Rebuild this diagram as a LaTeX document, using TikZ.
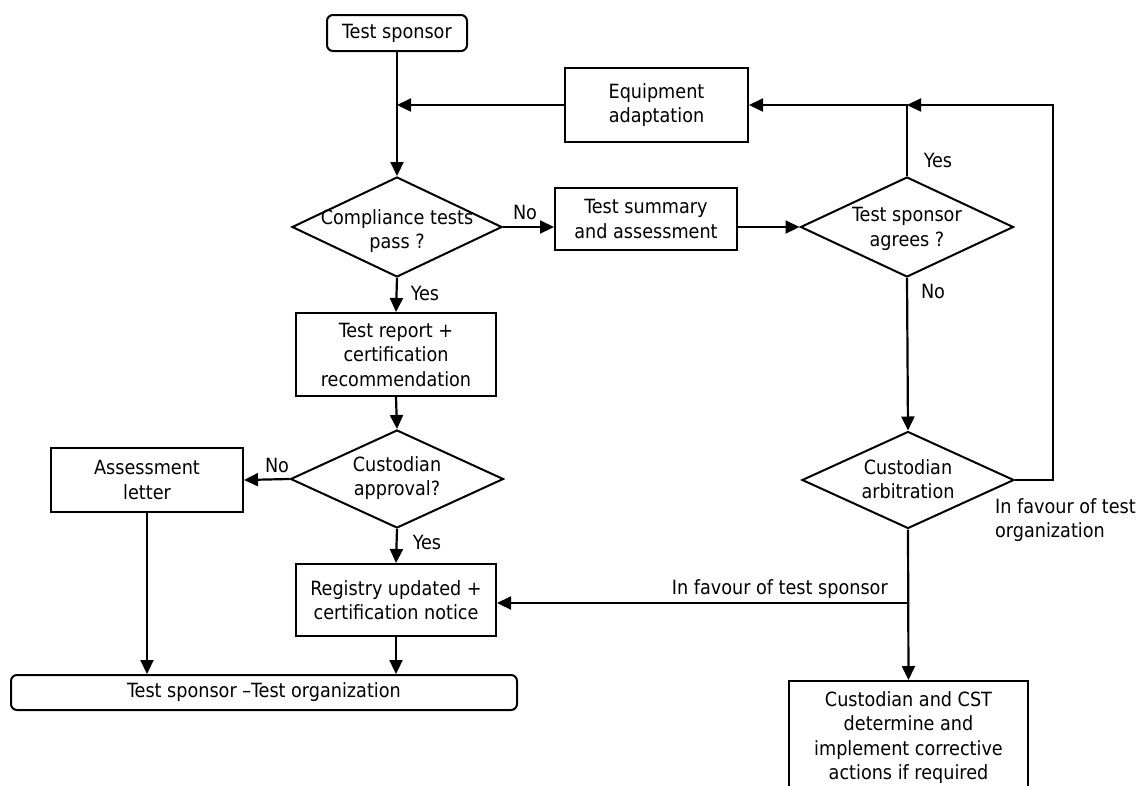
\documentclass[tikz,border=0pt]{standalone}
\usepackage{fontspec}
\setmainfont{DejaVu Sans Condensed}
\usetikzlibrary{shapes.geometric,arrows.meta}
\begin{document}
\begin{tikzpicture}[x=1pt,y=-1pt,
  every node/.style={font=\fontsize{19.6}{24.5}\selectfont, inner sep=0pt},
  box/.style={draw, line width=2pt, align=center},
  rbox/.style={box, rounded corners=6pt},
  dia/.style={draw, diamond, line width=2pt, inner sep=0pt},
  dtext/.style={align=center},
  conn/.style={line width=2.2pt, -{Triangle[length=14pt,width=13pt]}},
  line/.style={line width=2.2pt},
  lbl/.style={}]
\useasboundingbox (0,0) rectangle (1141,785);

% nodes
\node[rbox, minimum width=140pt, minimum height=36pt] (sponsor) at (397,33) {Test sponsor};
\node[box, minimum width=183pt, minimum height=74pt] (equip) at (656.5,105) {Equipment\\adaptation};
\node[dia, minimum width=210pt, minimum height=100pt] (comp) at (397,227) {};
\node[dtext] (comptext) at (397,231) {Compliance tests\\pass ?};
\node[box, minimum width=182pt, minimum height=62pt] (summ) at (646,219) {Test summary\\and assessment};
\node[dia, minimum width=213pt, minimum height=100pt] (agree) at (907,227) {};
\node[dtext] (agreetext) at (907,229) {Test sponsor\\agrees ?};
\node[box, minimum width=200pt, minimum height=83pt] (report) at (396,354.5) {Test report +\\certification\\recommendation};
\node[dia, minimum width=213pt, minimum height=98pt] (approv) at (397,479) {};
\node[dtext] (approvtext) at (397,478) {Custodian\\approval?};
\node[box, minimum width=192pt, minimum height=64pt] (assess) at (147,480) {Assessment\\letter};
\node[dia, minimum width=212pt, minimum height=97pt] (arb) at (908,480) {};
\node[dtext] (arbtext) at (908,479) {Custodian\\arbitration};
\node[box, minimum width=200pt, minimum height=72pt] (reg) at (396,600) {Registry updated +\\certification notice};
\node[rbox, minimum width=506pt, minimum height=35pt] (final) at (264,692.5) {Test sponsor \textendash Test organization};
\node[box, minimum width=239pt, minimum height=113pt, anchor=north] (cst) at (908.5,680) {Custodian and CST\\determine and\\implement corrective\\actions if required};

% junction coordinates
\coordinate (j1) at (sponsor.south |- equip.west);
\coordinate (j2) at (agree.north |- equip.east);
\coordinate (rc) at (1053,105);
\coordinate (j3) at (908,603);

% connectors
\draw[conn] (sponsor.south) -- (comp.north);
\draw[conn] (equip.west) -- (j1);
\draw[conn] (comp.east) -- (summ.west |- comp.east);
\draw[conn] (summ.east |- agree.west) -- (agree.west);
\draw[conn] (agree.north) |- (equip.east);
\draw[conn] (arb.east) -| (rc) -- (j2);
\draw[conn] (agree.south) -- (arb.north);
\draw[conn] (comp.south) -- (report.north);
\draw[conn] (report.south) -- (approv.north);
\draw[conn] (approv.west) -- (assess.east);
\draw[conn] (approv.south) -- (reg.north);
\draw[conn] (arb.south) -- (cst.north);
\draw[conn] (j3) -- (reg.east |- j3);
\draw[conn] (reg.south) -- (final.north -| reg.south);
\draw[conn] (assess.south) -- (final.north -| assess.south);

% labels
\node[lbl] (lno1) at (525,212) {No};
\node[lbl] (lyes1) at (425,293) {Yes};
\node[lbl] (lyes2) at (938,160) {Yes};
\node[lbl] (lno2) at (933,291) {No};
\node[lbl] (lno3) at (277,465) {No};
\node[lbl] (lyes3) at (427,542) {Yes};
\node[lbl, anchor=east] (lfav1) at (888,589) {In favour of test sponsor};
\node[lbl, anchor=west, align=left] (lfav2) at (995,520) {In favour of test\\organization};
\end{tikzpicture}
\end{document}
